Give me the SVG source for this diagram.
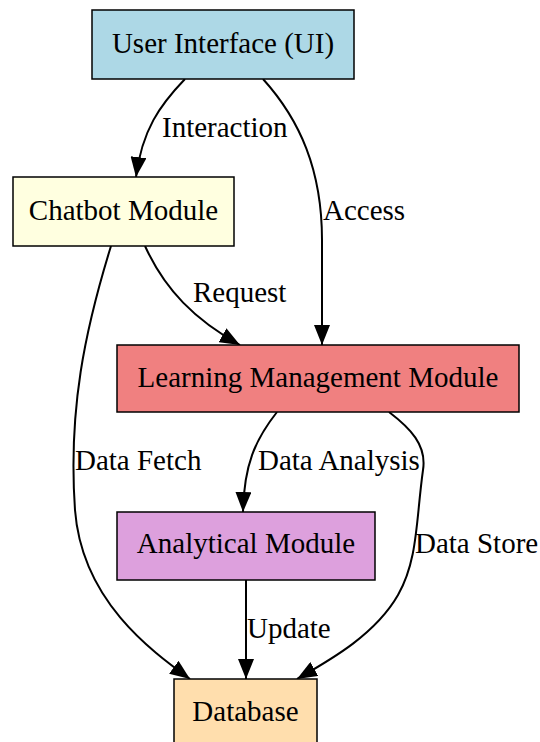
<svg xmlns="http://www.w3.org/2000/svg" width="540" height="742" viewBox="0 0 540 742">
<style>
text{font-family:"Liberation Serif","Times New Roman",serif;font-size:29px;fill:#000}
.n{text-anchor:middle}
.box{stroke:#000;stroke-width:1.5}
.e{fill:none;stroke:#000;stroke-width:2;marker-end:url(#ah)}
</style>
<defs>
<marker id="ah" viewBox="0 0 20 16" refX="20" refY="8" markerWidth="20" markerHeight="16" orient="auto" markerUnits="userSpaceOnUse">
<path d="M0,0 L20,8 L0,16 z" fill="#000"/>
</marker>
</defs>
<rect width="540" height="742" fill="#fff"/>
<g id="connectors">
<path class="e" d="M185,79 C160,105 142,130 136,177"/>
<text x="162" y="137">Interaction</text>
<path class="e" d="M263,79 C300,120 322,170 322,240 L322,345"/>
<text x="323" y="220">Access</text>
<path class="e" d="M145,246 C165,290 195,320 240,345"/>
<text x="193" y="302">Request</text>
<path class="e" d="M111,246 C85,330 68,410 75,510 C82,600 150,650 190,679"/>
<text x="75" y="470">Data Fetch</text>
<path class="e" d="M277,412 C255,440 244,465 243,512"/>
<text x="258" y="470">Data Analysis</text>
<path class="e" d="M389,412 C410,428 427,445 423,470 C416,520 418,560 398,595 C375,635 330,660 297,679"/>
<text x="415" y="553">Data Store</text>
<path class="e" d="M246,580 L246,679"/>
<text x="247" y="638">Update</text>
</g>
<g id="ui"><rect class="box" x="92" y="10" width="262" height="69" fill="#add8e6"/><text class="n" x="223" y="53">User Interface (UI)</text></g>
<g id="chatbot"><rect class="box" x="13" y="177" width="221" height="69" fill="#ffffe0"/><text class="n" x="123.5" y="220">Chatbot Module</text></g>
<g id="lmm"><rect class="box" x="117" y="345" width="402" height="67" fill="#f08080"/><text class="n" x="318" y="387">Learning Management Module</text></g>
<g id="analytical"><rect class="box" x="117" y="512" width="258" height="68" fill="#dda0dd"/><text class="n" x="246" y="553">Analytical Module</text></g>
<g id="database"><rect class="box" x="174" y="679" width="143" height="69" fill="#ffdead"/><text class="n" x="245.5" y="721">Database</text></g>
</svg>
